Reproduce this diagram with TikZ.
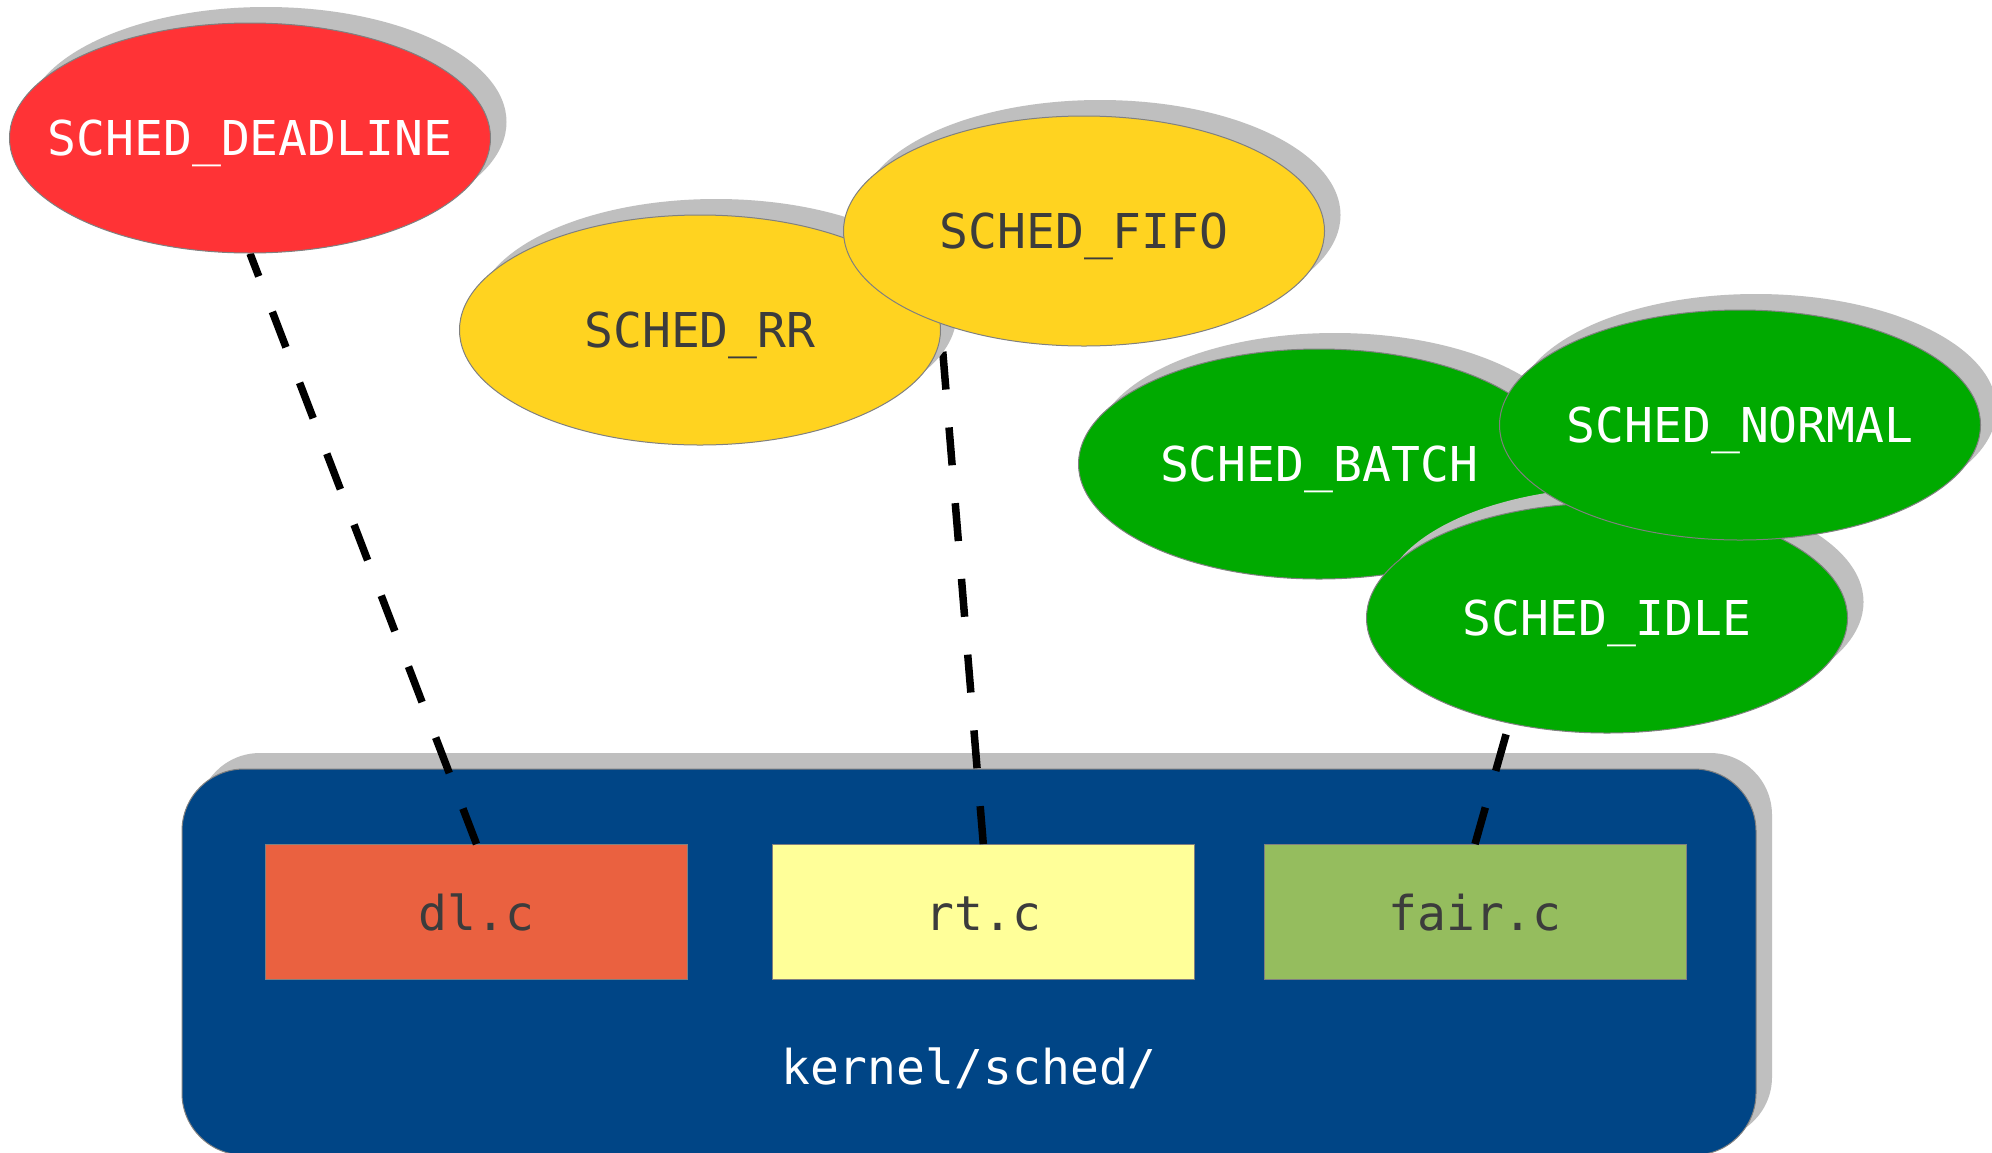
\documentclass[tikz,border=0pt]{standalone}
\usepackage{fontspec}
\setmonofont{DejaVu Sans Mono}
\usetikzlibrary{shapes.geometric,shadows}
\definecolor{polred}{HTML}{FF3336}
\definecolor{polyel}{HTML}{FFD320}
\definecolor{polgrn}{HTML}{00AA00}
\definecolor{kblue}{HTML}{004586}
\definecolor{dlcol}{HTML}{EA6140}
\definecolor{rtcol}{HTML}{FFFF99}
\definecolor{faircol}{HTML}{95BD5E}
\definecolor{shadowgray}{HTML}{BFBFBF}
\definecolor{darktext}{HTML}{3C3C3C}
\definecolor{edgegray}{HTML}{808080}
\newcommand\mylbl[2]{\makebox[0pt]{\raisebox{#1}[0pt][0pt]{#2}}}
\pgfdeclarelayer{boxes}
\pgfdeclarelayer{conn}
\pgfsetlayers{boxes,conn,main}
\begin{document}
\begin{tikzpicture}[x=1pt,y=-1pt,
  every node/.style={font=\ttfamily\fontsize{48pt}{58pt}\selectfont},
  sh/.style={drop shadow={shadow xshift=16pt,shadow yshift=16pt,fill=shadowgray,opacity=1}},
  policy/.style={ellipse,minimum width=481pt,minimum height=230pt,inner sep=0pt,
    draw=edgegray,line width=1pt,sh},
  filebox/.style={rectangle,minimum width=422pt,minimum height=135pt,inner sep=0pt,
    draw=edgegray,line width=1pt,text=darktext},
  bigbox/.style={rectangle,rounded corners=62pt,minimum width=1574pt,minimum height=386pt,
    inner sep=0pt,fill=kblue,draw=edgegray,line width=1pt,sh},
  connector/.style={line width=7.5pt,dash pattern=on 38pt off 38pt},
]
\useasboundingbox (0,0) rectangle (1992,1152);
\begin{pgfonlayer}{boxes}
  \fill[white] (0,0) rectangle (1992,1152);
  \node[bigbox] (sched) at (969,962) {};
  \node[filebox,fill=dlcol] (dl) at (476.5,912) {\mylbl{-0.38em}{dl.c}};
  \node[filebox,fill=rtcol] (rt) at (983.3,912) {\mylbl{-0.38em}{rt.c}};
  \node[filebox,fill=faircol] (fair) at (1475,912) {\mylbl{-0.38em}{fair.c}};
  \node[text=white,inner sep=0pt] (ksched) at (969,1066) {\mylbl{-0.38em}{kernel/sched/}};
\end{pgfonlayer}
\node[policy,fill=polred,text=white] (dead) at (250,138) {\mylbl{-0.3645em}{SCHED\_DEADLINE}};
\node[policy,fill=polyel,text=darktext] (rr) at (700,330) {\mylbl{-0.3645em}{SCHED\_RR}};
\node[policy,fill=polyel,text=darktext] (fifo) at (1084,231) {\mylbl{-0.3645em}{SCHED\_FIFO}};
\node[policy,fill=polgrn,text=white] (batch) at (1319,464) {\mylbl{-0.3645em}{SCHED\_BATCH}};
\node[policy,fill=polgrn,text=white] (idle) at (1607,618) {\mylbl{-0.3645em}{SCHED\_IDLE}};
\node[policy,fill=polgrn,text=white] (normal) at (1740,425) {\mylbl{-0.3645em}{SCHED\_NORMAL}};
\coordinate (fairend) at (1539,618);
\begin{pgfonlayer}{conn}
  \draw[connector] (dl.north) -- (dead.south);
  \draw[connector] (rt.north) -- (rr.east);
  \draw[connector] (fair.north) -- (fairend);
\end{pgfonlayer}
\end{tikzpicture}
\end{document}
